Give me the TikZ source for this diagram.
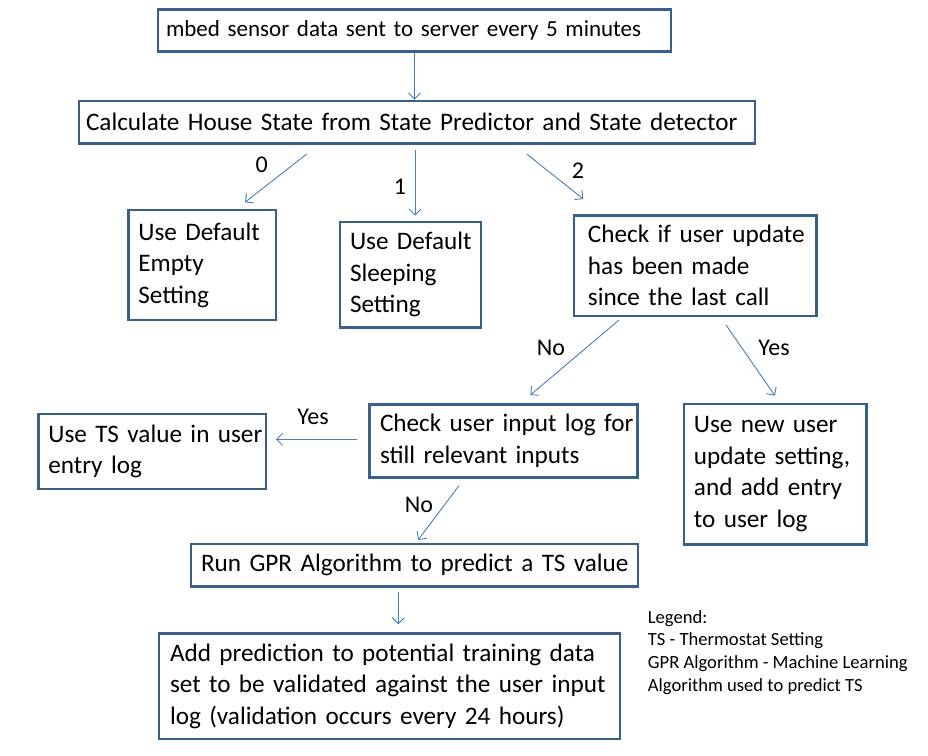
\documentclass[tikz,border=0pt]{standalone}
\usepackage{fontspec}
\setmainfont{Carlito}
\usetikzlibrary{arrows.meta}
\definecolor{boxc}{HTML}{3A5F8B}
\definecolor{arrc}{HTML}{4A7EBB}
\newcommand\lineb[1]{\mbox{#1}}
\tikzset{
  bx/.style={draw=boxc, line width=2.8pt, fill=white, align=left, inner ysep=0pt, inner xsep=10pt,
             font=\fontsize{25.2}{31.5}\selectfont, text=black},
  arr/.style={draw=arrc, line width=0.9pt, -{Straight Barb[length=6pt,width=12pt,line width=0.9pt]}},
  lbl/.style={font=\fontsize{24}{28}\selectfont, text=black, inner sep=0pt},
  lgd/.style={font=\fontsize{18.6}{22.7}\selectfont, text=black, align=left, anchor=north west, inner sep=0pt}
}
\begin{document}
\begin{tikzpicture}[x=1pt,y=-1pt]
\useasboundingbox (0,0) rectangle (928,755);
\fill[white] (0,0) rectangle (928,755);

\node[bx, font=\fontsize{23}{28}\selectfont, inner xsep=8pt, text width=497pt, minimum height=42.4pt] (top) at (414.5,30.5) {\lineb{mbed sensor data sent to server every 5 minutes}};
\node[bx, inner xsep=7pt, text width=662pt, minimum height=42.5pt] (calc) at (417,122.3) {\lineb{Calculate House State from State Predictor and State detector}};
\node[bx, text width=127.7pt, minimum height=110pt] (empty) at (202.2,265) {\lineb{Use Default}\\\lineb{Empty}\\\lineb{Setting}};
\node[bx, text width=121pt, minimum height=105.7pt] (sleep) at (410.5,274.9) {\lineb{Use Default}\\\lineb{Sleeping}\\\lineb{Setting}};
\node[bx, inner xsep=14pt, text width=214.7pt, minimum height=100.7pt] (chk) at (695.3,265.7) {\lineb{Check if user update}\\\lineb{has been made}\\\lineb{since the last call}};
\node[bx, text width=207.7pt, minimum height=75pt] (ts) at (152.2,451.5) {\lineb{Use TS value in user}\\\lineb{entry log}};
\node[bx, inner xsep=10.5pt, text width=247pt, minimum height=73.4pt] (inlog) at (503.5,441) {\lineb{Check user input log for}\\\lineb{still relevant inputs}};
\node[bx, text width=162.7pt, minimum height=140.3pt] (newu) at (775.3,474.2) {\lineb{Use new user}\\\lineb{update setting,}\\\lineb{and add entry}\\\lineb{to user log}};
\node[bx, text width=427pt, minimum height=42.7pt] (gpr) at (414.5,565.3) {\lineb{Run GPR Algorithm to predict a TS value}};
\node[bx, inner xsep=11pt, text width=439pt, minimum height=105.7pt] (add) at (389.5,686.2) {\lineb{Add prediction to potential training data}\\\lineb{set to be validated against the user input}\\\lineb{log (validation occurs every 24 hours)}};

\node[lgd] (legend) at (647.7,610) {Legend:\\TS - Thermostat Setting\\GPR Algorithm - Machine Learning\\Algorithm used to predict TS};

\coordinate (a0s) at (306.7,154);   \coordinate (a0e) at (245,202.3);
\coordinate (a1s) at (415,150);     \coordinate (a1e) at (415,215.7);
\coordinate (a2s) at (526.7,154);   \coordinate (a2e) at (583.3,199);
\coordinate (ans) at (619,320);     \coordinate (ane) at (530.4,395);
\coordinate (ays) at (726,325);     \coordinate (aye) at (775,395.7);
\coordinate (als) at (357,439.3);   \coordinate (ale) at (276,439.3);
\coordinate (ads) at (459,485.7);   \coordinate (ade) at (418,540);
\coordinate (ags) at (398.3,591.7); \coordinate (age) at (398.3,624.3);

\draw[arr] (top.south) -- (top.south |- calc.north);
\draw[arr] (a0s) -- (a0e);
\draw[arr] (a1s) -- (a1e);
\draw[arr] (a2s) -- (a2e);
\draw[arr] (ans) -- (ane);
\draw[arr] (ays) -- (aye);
\draw[arr] (als) -- (ale);
\draw[arr] (ads) -- (ade);
\draw[arr] (ags) -- (age);

\node[lbl] (l0) at (261.7,165) {0};
\node[lbl] (l1) at (400,186.7) {1};
\node[lbl] (l2) at (578,171) {2};
\node[lbl] (lno1) at (551,348) {No};
\node[lbl] (lyes1) at (774,348) {Yes};
\node[lbl] (lyes2) at (313,416.7) {Yes};
\node[lbl] (lno2) at (419,505) {No};
\end{tikzpicture}
\end{document}
